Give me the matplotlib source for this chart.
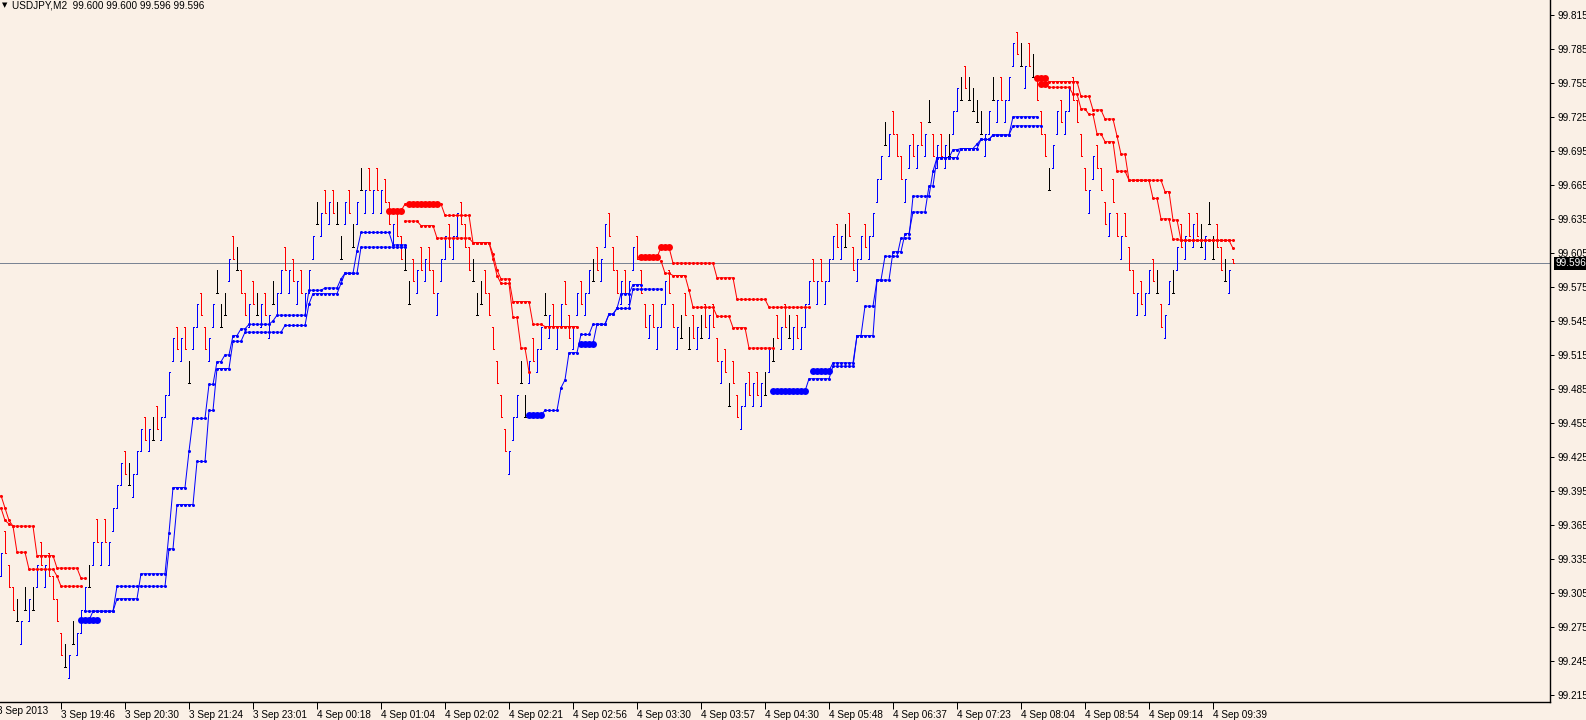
import numpy as np
import matplotlib
matplotlib.use("Agg")
import matplotlib.pyplot as plt
from matplotlib.transforms import blended_transform_factory

plt.rcParams['font.family'] = ['Liberation Sans', 'DejaVu Sans']

BG = "#faf0e6"
UP, DOWN, FLAT = "#0000ff", "#ff0000", "#000000"

# USDJPY M2 bars, left to right (b = up bar, r = down bar, k = doji)
bar_dir = ("brrrkbkbkb" "rbrrrrkbkb" "bbkbrbrbbb" "brkbbbrbkr" "bbbbrbrkbb"
           "rrbbkkkbrk" "rrbrkbrbkb" "brbrbrbbbk" "brbrkkbrkb" "kbrbrbrrbr"
           "rkkrbrbrrb" "bbrbbrrrkk" "krrrrrrbbb" "kkbrbbkbrb" "brrbbrbbkr"
           "bbrrrbrbbr" "rrbrbbbrrb" "krkrbkrbrr" "brkrrbbrbr" "bkbkrbrkbr"
           "bbbrbrbbbr" "bkrrbbrbbb" "bkbrrrbbrb" "rbkrbrbkbb" "krkkkkbbkb"
           "rbbbrkbrkr" "rrkbbrbbrr" "rrbbrrrbrr" "brrrbrbbrk" "rbbkbrbrbr"
           "kbkkrrkbr")

bar_high = [
    99.34, 99.36, 99.33, 99.31, 99.30, 99.28, 99.31, 99.30, 99.31, 99.33,
    99.35, 99.33, 99.34, 99.32, 99.30, 99.27, 99.26, 99.25, 99.28, 99.27,
    99.29, 99.31, 99.33, 99.35, 99.37, 99.35, 99.37, 99.35, 99.38, 99.40,
    99.42, 99.43, 99.42, 99.41, 99.43, 99.45, 99.46, 99.45, 99.46, 99.47,
    99.46, 99.48, 99.50, 99.53, 99.54, 99.53, 99.54, 99.51, 99.54, 99.56,
    99.57, 99.54, 99.53, 99.56, 99.59, 99.56, 99.57, 99.60, 99.62, 99.61,
    99.59, 99.57, 99.56, 99.58, 99.57, 99.56, 99.57, 99.55, 99.58, 99.57,
    99.59, 99.61, 99.59, 99.60, 99.58, 99.59, 99.57, 99.59, 99.62, 99.65,
    99.64, 99.66, 99.65, 99.66, 99.65, 99.62, 99.65, 99.66, 99.63, 99.65,
    99.68, 99.66, 99.68, 99.66, 99.68, 99.66, 99.67, 99.65, 99.63, 99.64,
    99.62, 99.61, 99.58, 99.60, 99.59, 99.61, 99.60, 99.61, 99.59, 99.57,
    99.60, 99.62, 99.63, 99.62, 99.64, 99.65, 99.63, 99.61, 99.60, 99.57,
    99.58, 99.59, 99.57, 99.54, 99.51, 99.48, 99.45, 99.43, 99.46, 99.48,
    99.51, 99.48, 99.51, 99.53, 99.52, 99.54, 99.57, 99.55, 99.56, 99.54,
    99.56, 99.58, 99.55, 99.54, 99.57, 99.58, 99.57, 99.59, 99.60, 99.61,
    99.60, 99.63, 99.64, 99.61, 99.59, 99.58, 99.59, 99.58, 99.61, 99.62,
    99.59, 99.56, 99.55, 99.56, 99.54, 99.56, 99.58, 99.59, 99.56, 99.54,
    99.55, 99.57, 99.54, 99.55, 99.54, 99.55, 99.56, 99.55, 99.56, 99.53,
    99.51, 99.52, 99.49, 99.51, 99.48, 99.47, 99.49, 99.50, 99.49, 99.50,
    99.49, 99.50, 99.52, 99.53, 99.55, 99.54, 99.56, 99.55, 99.54, 99.55,
    99.54, 99.56, 99.58, 99.60, 99.58, 99.60, 99.58, 99.60, 99.62, 99.63,
    99.62, 99.63, 99.64, 99.61, 99.60, 99.62, 99.63, 99.62, 99.64, 99.67,
    99.69, 99.72, 99.71, 99.73, 99.71, 99.69, 99.67, 99.70, 99.71, 99.70,
    99.72, 99.71, 99.74, 99.71, 99.70, 99.71, 99.70, 99.71, 99.73, 99.75,
    99.76, 99.77, 99.76, 99.75, 99.74, 99.73, 99.71, 99.73, 99.76, 99.74,
    99.76, 99.74, 99.76, 99.79, 99.80, 99.79, 99.77, 99.79, 99.78, 99.76,
    99.73, 99.71, 99.68, 99.70, 99.73, 99.74, 99.73, 99.75, 99.76, 99.74,
    99.71, 99.68, 99.66, 99.69, 99.70, 99.68, 99.65, 99.64, 99.67, 99.64,
    99.62, 99.64, 99.61, 99.59, 99.57, 99.58, 99.57, 99.59, 99.60, 99.59,
    99.56, 99.55, 99.58, 99.59, 99.61, 99.63, 99.62, 99.64, 99.63, 99.64,
    99.63, 99.62, 99.65, 99.62, 99.63, 99.61, 99.60, 99.59, 99.600,
]

bar_low = [
    99.32, 99.34, 99.31, 99.29, 99.28, 99.26, 99.29, 99.28, 99.29, 99.31,
    99.33, 99.31, 99.32, 99.30, 99.28, 99.25, 99.24, 99.23, 99.26, 99.25,
    99.27, 99.29, 99.31, 99.33, 99.35, 99.33, 99.35, 99.33, 99.36, 99.38,
    99.40, 99.41, 99.40, 99.39, 99.41, 99.43, 99.44, 99.43, 99.44, 99.45,
    99.44, 99.46, 99.48, 99.51, 99.52, 99.51, 99.52, 99.49, 99.52, 99.54,
    99.55, 99.52, 99.51, 99.54, 99.57, 99.54, 99.55, 99.58, 99.60, 99.59,
    99.57, 99.55, 99.54, 99.56, 99.55, 99.54, 99.55, 99.53, 99.56, 99.55,
    99.57, 99.59, 99.57, 99.58, 99.56, 99.57, 99.55, 99.57, 99.60, 99.63,
    99.62, 99.64, 99.63, 99.64, 99.63, 99.60, 99.63, 99.64, 99.61, 99.63,
    99.66, 99.64, 99.66, 99.64, 99.66, 99.64, 99.65, 99.63, 99.61, 99.62,
    99.60, 99.59, 99.56, 99.58, 99.57, 99.59, 99.58, 99.59, 99.57, 99.55,
    99.58, 99.60, 99.61, 99.60, 99.62, 99.63, 99.61, 99.59, 99.58, 99.55,
    99.56, 99.57, 99.55, 99.52, 99.49, 99.46, 99.43, 99.41, 99.44, 99.46,
    99.49, 99.46, 99.49, 99.51, 99.50, 99.52, 99.55, 99.53, 99.54, 99.52,
    99.54, 99.56, 99.53, 99.52, 99.55, 99.56, 99.55, 99.57, 99.58, 99.59,
    99.58, 99.61, 99.62, 99.59, 99.57, 99.56, 99.57, 99.56, 99.59, 99.60,
    99.57, 99.54, 99.53, 99.54, 99.52, 99.54, 99.56, 99.57, 99.54, 99.52,
    99.53, 99.55, 99.52, 99.53, 99.52, 99.53, 99.54, 99.53, 99.54, 99.51,
    99.49, 99.50, 99.47, 99.49, 99.46, 99.45, 99.47, 99.48, 99.47, 99.48,
    99.47, 99.48, 99.50, 99.51, 99.53, 99.52, 99.54, 99.53, 99.52, 99.53,
    99.52, 99.54, 99.56, 99.58, 99.56, 99.58, 99.56, 99.58, 99.60, 99.61,
    99.60, 99.61, 99.62, 99.59, 99.58, 99.60, 99.61, 99.60, 99.62, 99.65,
    99.67, 99.70, 99.69, 99.71, 99.69, 99.67, 99.65, 99.68, 99.69, 99.68,
    99.70, 99.69, 99.72, 99.69, 99.68, 99.69, 99.68, 99.69, 99.71, 99.73,
    99.74, 99.75, 99.74, 99.73, 99.72, 99.71, 99.69, 99.71, 99.74, 99.72,
    99.74, 99.72, 99.74, 99.77, 99.78, 99.77, 99.75, 99.77, 99.76, 99.74,
    99.71, 99.69, 99.66, 99.68, 99.71, 99.72, 99.71, 99.73, 99.74, 99.72,
    99.69, 99.66, 99.64, 99.67, 99.68, 99.66, 99.63, 99.62, 99.65, 99.62,
    99.60, 99.62, 99.59, 99.57, 99.55, 99.56, 99.55, 99.57, 99.58, 99.57,
    99.54, 99.53, 99.56, 99.57, 99.59, 99.61, 99.60, 99.62, 99.61, 99.62,
    99.61, 99.60, 99.63, 99.60, 99.61, 99.59, 99.58, 99.57, 99.596,
]

# indicator lines as (first bar, last bar, level)
blue_fast = [
    (21, 28, 99.289), (29, 34, 99.300), (35, 41, 99.322), (42, 42, 99.358),
    (43, 46, 99.398), (47, 47, 99.430), (48, 51, 99.459), (52, 53, 99.489),
    (54, 55, 99.509), (56, 57, 99.515), (58, 59, 99.532), (60, 61, 99.538),
    (62, 67, 99.542), (68, 68, 99.545), (69, 76, 99.550), (77, 80, 99.572),
    (81, 84, 99.574), (85, 85, 99.582), (86, 88, 99.587), (89, 89, 99.607),
    (90, 97, 99.623), (98, 101, 99.612),
    (132, 135, 99.462), (136, 139, 99.466), (140, 140, 99.486), (141, 141, 99.493),
    (142, 144, 99.517), (145, 147, 99.533), (148, 151, 99.542), (152, 153, 99.551),
    (154, 154, 99.556), (155, 157, 99.569), (158, 160, 99.577),
    (203, 207, 99.501), (208, 213, 99.508), (214, 215, 99.532), (216, 218, 99.558),
    (219, 220, 99.581), (221, 224, 99.602), (225, 227, 99.618), (228, 232, 99.655),
    (233, 233, 99.677), (234, 237, 99.689), (238, 239, 99.696), (240, 243, 99.697),
    (244, 244, 99.701), (245, 247, 99.705), (248, 252, 99.709), (253, 259, 99.725),
]
blue_slow = [
    (20, 22, 99.281), (23, 28, 99.289), (29, 41, 99.311), (42, 43, 99.344),
    (44, 48, 99.383), (49, 51, 99.421), (52, 53, 99.466), (54, 57, 99.503),
    (58, 60, 99.527), (61, 70, 99.535), (71, 76, 99.541), (77, 77, 99.560),
    (78, 84, 99.569), (85, 85, 99.578), (86, 89, 99.587), (90, 101, 99.610),
    (145, 148, 99.525), (149, 151, 99.542), (152, 153, 99.551), (154, 157, 99.556),
    (158, 165, 99.573),
    (193, 201, 99.483), (202, 207, 99.494), (208, 213, 99.505), (214, 218, 99.532),
    (219, 222, 99.581), (223, 225, 99.606), (226, 227, 99.622), (228, 231, 99.641),
    (232, 233, 99.664), (234, 239, 99.689), (240, 244, 99.697), (245, 247, 99.705),
    (248, 252, 99.709), (253, 260, 99.717),
]
red_slow = [
    (0, 0, 99.391), (1, 1, 99.380), (2, 2, 99.369), (3, 8, 99.364),
    (9, 13, 99.338), (14, 19, 99.327), (20, 21, 99.318),
    (97, 100, 99.642), (101, 110, 99.648), (111, 117, 99.638), (118, 122, 99.614),
    (123, 123, 99.604), (124, 124, 99.590), (125, 127, 99.582), (128, 132, 99.562),
    (133, 135, 99.542), (136, 144, 99.540),
    (160, 164, 99.601), (165, 167, 99.610), (168, 178, 99.596), (179, 183, 99.583),
    (184, 191, 99.564), (192, 202, 99.557),
    (259, 261, 99.759), (262, 269, 99.756), (270, 272, 99.743), (273, 275, 99.731),
    (276, 278, 99.723), (279, 279, 99.708), (280, 281, 99.692), (282, 290, 99.669),
    (291, 292, 99.659), (293, 294, 99.634), (295, 307, 99.616), (308, 308, 99.609),
]
red_fast = [
    (0, 0, 99.380), (1, 1, 99.369), (2, 2, 99.366), (3, 3, 99.364),
    (4, 6, 99.341), (7, 13, 99.326), (14, 14, 99.320), (15, 20, 99.311),
    (101, 104, 99.633), (105, 108, 99.629), (109, 117, 99.618), (118, 122, 99.614),
    (123, 123, 99.600), (124, 124, 99.585), (125, 127, 99.578), (128, 129, 99.548),
    (130, 131, 99.521), (132, 132, 99.500),
    (165, 165, 99.598), (166, 167, 99.587), (168, 171, 99.585), (172, 172, 99.572),
    (173, 178, 99.557), (179, 182, 99.549), (183, 186, 99.539), (187, 193, 99.521),
    (260, 261, 99.754), (262, 267, 99.751), (268, 269, 99.745), (270, 271, 99.732),
    (272, 273, 99.727), (274, 275, 99.710), (276, 278, 99.703), (279, 281, 99.677),
    (282, 287, 99.669), (288, 289, 99.653), (290, 292, 99.635), (293, 294, 99.617),
    (295, 308, 99.616),
]
# thick signal marks
blue_signal = [(20, 24, 99.281), (132, 135, 99.462), (145, 148, 99.525),
               (193, 201, 99.483), (203, 207, 99.501)]
red_signal = [(97, 100, 99.642), (102, 109, 99.648), (160, 164, 99.601),
              (165, 167, 99.610), (259, 261, 99.759), (260, 261, 99.754)]

last_price = 99.596
header = "USDJPY,M2  99.600 99.600 99.596 99.596"

price_ticks = [99.215, 99.245, 99.275, 99.305, 99.335, 99.365, 99.395, 99.425,
               99.455, 99.485, 99.515, 99.545, 99.575, 99.605, 99.635, 99.665,
               99.695, 99.725, 99.755, 99.785, 99.815]
time_tick_bars = [-1, 15, 31, 47, 63, 79, 95, 111, 127, 143, 159, 175, 191,
                  207, 223, 239, 255, 271, 287, 303]
time_labels = ["3 Sep 2013", "3 Sep 19:46", "3 Sep 20:30", "3 Sep 21:24",
               "3 Sep 23:01", "4 Sep 00:18", "4 Sep 01:04", "4 Sep 02:02",
               "4 Sep 02:21", "4 Sep 02:56", "4 Sep 03:30", "4 Sep 03:57",
               "4 Sep 04:30", "4 Sep 05:48", "4 Sep 06:37", "4 Sep 07:23",
               "4 Sep 08:04", "4 Sep 08:54", "4 Sep 09:14", "4 Sep 09:39"]

FS = 7.2
PX = 0.72  # one pixel in points at 100 dpi


def expand(steps, n):
    arr = np.full(n, np.nan)
    for a, b, v in steps:
        arr[a:b + 1] = v
    return arr


fig = plt.figure(figsize=(15.86, 7.2), dpi=100, facecolor=BG)
ax = fig.add_axes([0, 18 / 720, 1550 / 1586, 702 / 720])
ax.set_facecolor(BG)

n = len(bar_high)
idx = np.arange(n)
hi = np.array(bar_high)
lo = np.array(bar_low)
cmap = {"b": UP, "r": DOWN, "k": FLAT}
cols = [cmap[c] for c in bar_dir]
opens = np.array([h if d == "r" else l for d, h, l in zip(bar_dir, hi, lo)])
closes = np.array([h if d == "b" else l for d, h, l in zip(bar_dir, hi, lo)])

ax.axhline(last_price, color="#7a8494", lw=PX, zorder=1)

ax.vlines(idx, lo, hi, colors=cols, lw=PX, antialiased=False, zorder=2)
ax.hlines(opens, idx - 0.3, idx, colors=cols, lw=PX, antialiased=False, zorder=2)
ax.hlines(closes, idx, idx + 0.3, colors=cols, lw=PX, antialiased=False, zorder=2)

for steps, col in [(blue_slow, UP), (blue_fast, UP), (red_slow, DOWN), (red_fast, DOWN)]:
    ax.plot(idx, expand(steps, n), color=col, lw=PX, marker="o", ms=2.2,
            mew=0, zorder=3)

for sig, col in [(blue_signal, UP), (red_signal, DOWN)]:
    for a, b, v in sig:
        xs = np.arange(a, b + 1)
        ax.plot(xs, np.full(len(xs), v), "o", color=col, ms=5.0, mew=0, zorder=4)

ax.set_xlim(-0.25, 387.25)
ax.set_ylim(99.20892, 99.82796)

for side in ["top", "left"]:
    ax.spines[side].set_visible(False)
for side in ["right", "bottom"]:
    ax.spines[side].set_color("black")
    ax.spines[side].set_linewidth(1.0)

ax.yaxis.tick_right()
ax.set_yticks(price_ticks)
ax.set_yticklabels([f"{p:.3f}" for p in price_ticks])
ax.tick_params(axis="y", direction="out", length=3, width=PX, pad=2.5,
               labelsize=FS, colors="black")

ax.set_xticks(time_tick_bars[1:])
ax.set_xticklabels(time_labels[1:])
ax.tick_params(axis="x", direction="out", length=5, width=PX, pad=0.6,
               labelsize=FS, colors="black")
for lbl in ax.get_xticklabels():
    lbl.set_horizontalalignment("left")

xt = blended_transform_factory(ax.transData, ax.transAxes)
ax.text(time_tick_bars[0], -0.0135, time_labels[0], transform=xt, ha="left",
        va="center", fontsize=FS, clip_on=False)

yt = blended_transform_factory(ax.transAxes, ax.transData)
ax.text(1.0 + 5 / 1550, last_price, f"{last_price:.3f}", transform=yt,
        ha="left", va="center", color="white", fontsize=FS, clip_on=False,
        bbox=dict(boxstyle="square,pad=0.15", fc="black", ec="none"))

fig.text(1.5 / 1586, 1 - 5 / 720, "\u25bc", fontsize=5, va="center",
         family="DejaVu Sans")
fig.text(12 / 1586, 1 - 5 / 720, header, fontsize=FS, va="center")

fig.savefig("out.png", dpi=100, facecolor=BG)
